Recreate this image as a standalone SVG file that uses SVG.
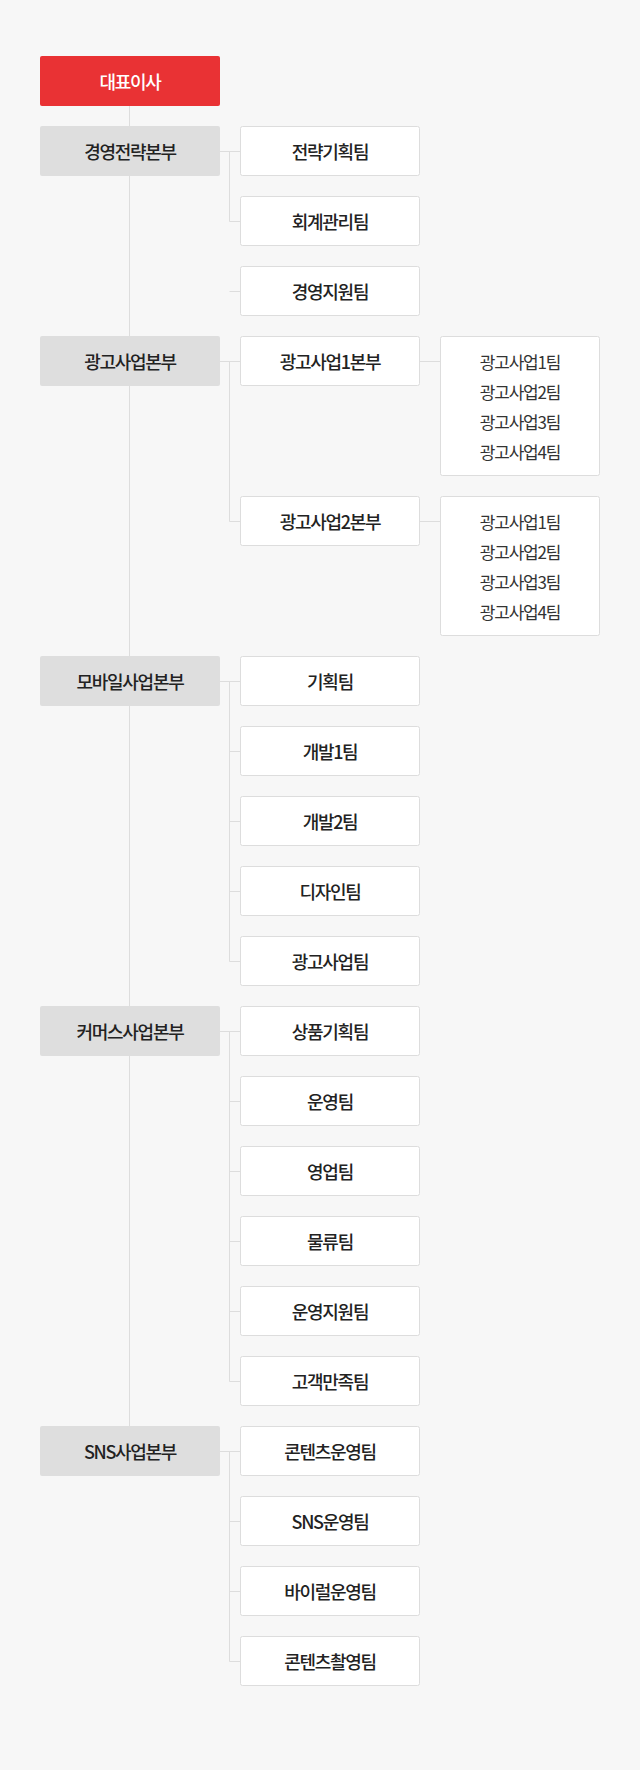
<svg xmlns="http://www.w3.org/2000/svg" width="640" height="1770" viewBox="0 0 640 1770">
<style>
.bg{fill:#f7f7f7}
.ceo{fill:#e93234}
.div{fill:#dedede}
.team{fill:#ffffff;stroke:#dddddd;stroke-width:1}
.ln{stroke:#dddddd;stroke-width:1;fill:none}
text{font-family:"Noto Sans CJK KR","Noto Sans",sans-serif;text-anchor:middle;dominant-baseline:central}
.t{font-size:18px;font-weight:500;fill:#222;letter-spacing:-1.3px}
.tw{font-size:18px;font-weight:500;fill:#fff;letter-spacing:-1.3px}
.s{font-size:17px;font-weight:400;fill:#333;letter-spacing:-1.2px}
</style>
<rect class="bg" x="0" y="0" width="640" height="1770"/>
<g id="connectors">
<path class="ln" d="M129.5 106V1426"/>
<path class="ln" d="M220 151.5H240M229.5 151.5V221.5H240M229.5 291.5H240"/>
<path class="ln" d="M220 361.5H240M229.5 361.5V521.5H240M420 361.5H440M420 521.5H440"/>
<path class="ln" d="M220 681.5H240M229.5 681.5V961.5H240M229.5 751.5H240M229.5 821.5H240M229.5 891.5H240"/>
<path class="ln" d="M220 1031.5H240M229.5 1031.5V1381.5H240M229.5 1101.5H240M229.5 1171.5H240M229.5 1241.5H240M229.5 1311.5H240"/>
<path class="ln" d="M220 1451.5H240M229.5 1451.5V1661.5H240M229.5 1521.5H240M229.5 1591.5H240"/>
</g>
<g id="ceo"><rect class="ceo" x="40" y="56" width="180" height="50" rx="2"/><text class="tw" x="130" y="81">대표이사</text></g>
<g id="div1"><rect class="div" x="40" y="126" width="180" height="50" rx="2"/><text class="t" x="130" y="151">경영전략본부</text></g>
<g id="t1-1"><rect class="team" x="240.5" y="126.5" width="179" height="49" rx="2"/><text class="t" x="330" y="151">전략기획팀</text></g>
<g id="t1-2"><rect class="team" x="240.5" y="196.5" width="179" height="49" rx="2"/><text class="t" x="330" y="221">회계관리팀</text></g>
<g id="t1-3"><rect class="team" x="240.5" y="266.5" width="179" height="49" rx="2"/><text class="t" x="330" y="291">경영지원팀</text></g>
<g id="div2"><rect class="div" x="40" y="336" width="180" height="50" rx="2"/><text class="t" x="130" y="361">광고사업본부</text></g>
<g id="t2-1"><rect class="team" x="240.5" y="336.5" width="179" height="49" rx="2"/><text class="t" x="330" y="361">광고사업1본부</text></g>
<g id="t2-1s"><rect class="team" x="440.5" y="336.5" width="159" height="139" rx="2"/><text class="s" x="520" y="361">광고사업1팀</text><text class="s" x="520" y="391">광고사업2팀</text><text class="s" x="520" y="421">광고사업3팀</text><text class="s" x="520" y="451">광고사업4팀</text></g>
<g id="t2-2"><rect class="team" x="240.5" y="496.5" width="179" height="49" rx="2"/><text class="t" x="330" y="521">광고사업2본부</text></g>
<g id="t2-2s"><rect class="team" x="440.5" y="496.5" width="159" height="139" rx="2"/><text class="s" x="520" y="521">광고사업1팀</text><text class="s" x="520" y="551">광고사업2팀</text><text class="s" x="520" y="581">광고사업3팀</text><text class="s" x="520" y="611">광고사업4팀</text></g>
<g id="div3"><rect class="div" x="40" y="656" width="180" height="50" rx="2"/><text class="t" x="130" y="681">모바일사업본부</text></g>
<g id="t3-1"><rect class="team" x="240.5" y="656.5" width="179" height="49" rx="2"/><text class="t" x="330" y="681">기획팀</text></g>
<g id="t3-2"><rect class="team" x="240.5" y="726.5" width="179" height="49" rx="2"/><text class="t" x="330" y="751">개발1팀</text></g>
<g id="t3-3"><rect class="team" x="240.5" y="796.5" width="179" height="49" rx="2"/><text class="t" x="330" y="821">개발2팀</text></g>
<g id="t3-4"><rect class="team" x="240.5" y="866.5" width="179" height="49" rx="2"/><text class="t" x="330" y="891">디자인팀</text></g>
<g id="t3-5"><rect class="team" x="240.5" y="936.5" width="179" height="49" rx="2"/><text class="t" x="330" y="961">광고사업팀</text></g>
<g id="div4"><rect class="div" x="40" y="1006" width="180" height="50" rx="2"/><text class="t" x="130" y="1031">커머스사업본부</text></g>
<g id="t4-1"><rect class="team" x="240.5" y="1006.5" width="179" height="49" rx="2"/><text class="t" x="330" y="1031">상품기획팀</text></g>
<g id="t4-2"><rect class="team" x="240.5" y="1076.5" width="179" height="49" rx="2"/><text class="t" x="330" y="1101">운영팀</text></g>
<g id="t4-3"><rect class="team" x="240.5" y="1146.5" width="179" height="49" rx="2"/><text class="t" x="330" y="1171">영업팀</text></g>
<g id="t4-4"><rect class="team" x="240.5" y="1216.5" width="179" height="49" rx="2"/><text class="t" x="330" y="1241">물류팀</text></g>
<g id="t4-5"><rect class="team" x="240.5" y="1286.5" width="179" height="49" rx="2"/><text class="t" x="330" y="1311">운영지원팀</text></g>
<g id="t4-6"><rect class="team" x="240.5" y="1356.5" width="179" height="49" rx="2"/><text class="t" x="330" y="1381">고객만족팀</text></g>
<g id="div5"><rect class="div" x="40" y="1426" width="180" height="50" rx="2"/><text class="t" x="130" y="1451">SNS사업본부</text></g>
<g id="t5-1"><rect class="team" x="240.5" y="1426.5" width="179" height="49" rx="2"/><text class="t" x="330" y="1451">콘텐츠운영팀</text></g>
<g id="t5-2"><rect class="team" x="240.5" y="1496.5" width="179" height="49" rx="2"/><text class="t" x="330" y="1521">SNS운영팀</text></g>
<g id="t5-3"><rect class="team" x="240.5" y="1566.5" width="179" height="49" rx="2"/><text class="t" x="330" y="1591">바이럴운영팀</text></g>
<g id="t5-4"><rect class="team" x="240.5" y="1636.5" width="179" height="49" rx="2"/><text class="t" x="330" y="1661">콘텐츠촬영팀</text></g>
</svg>
